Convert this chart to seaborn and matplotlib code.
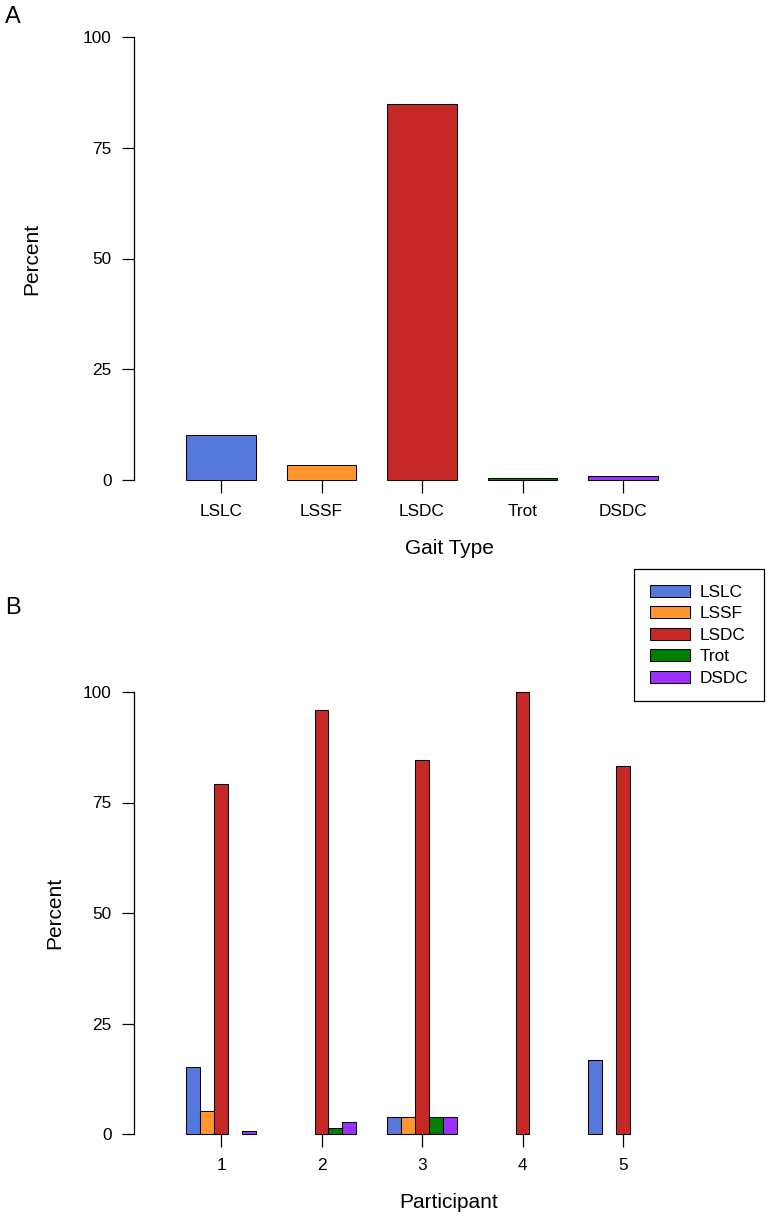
import numpy as np
import pandas as pd
import matplotlib
matplotlib.use("Agg")
import matplotlib.pyplot as plt
import seaborn as sns
from matplotlib.patches import Patch

# Panel A: overall gait type percentages
gaits = ["LSLC", "LSSF", "LSDC", "Trot", "DSDC"]
overall_pct = [10.2, 3.4, 84.9, 0.5, 1.0]

# Panel B: per-participant percentages (nan = not observed)
participants = ["1", "2", "3", "4", "5"]
lslc = [15.1, np.nan, 3.85, np.nan, 16.7]
lssf = [5.2, np.nan, 3.85, np.nan, np.nan]
lsdc = [79.2, 96.0, 84.6, 100.0, 83.3]
trot = [np.nan, 1.4, 3.85, np.nan, np.nan]
dsdc = [0.6, 2.7, 3.85, np.nan, np.nan]

colors = ["#5677DC", "#FF962E", "#C62828", "#008000", "#9B30FF"]
palette = dict(zip(gaits, colors))

sns.set_style("white")
plt.rcParams["font.family"] = ["Liberation Sans", "DejaVu Sans"]
plt.rcParams.update({"text.color": "black", "axes.labelcolor": "black",
                     "xtick.color": "black", "ytick.color": "black"})

df_a = pd.DataFrame({"Gait": gaits, "Percent": overall_pct})
rows = []
for g, vals in zip(gaits, [lslc, lssf, lsdc, trot, dsdc]):
    for p, v in zip(participants, vals):
        rows.append({"Participant": p, "Gait": g, "Percent": v})
df_b = pd.DataFrame(rows)

W, H = 770, 1218
fig = plt.figure(figsize=(W / 100, H / 100), dpi=100)
left_px, right_px = 134, 764
ax_a = fig.add_axes([left_px / W, (H - 480) / H, (right_px - left_px) / W, 443 / H])
ax_b = fig.add_axes([left_px / W, (H - 1134) / H, (right_px - left_px) / W, 442 / H])

lw = 0.75
sns.barplot(data=df_a, x="Gait", y="Percent", hue="Gait", palette=palette,
            order=gaits, hue_order=gaits, width=0.69, dodge=False, saturation=1,
            edgecolor="black", linewidth=lw, legend=False, ax=ax_a)

sns.barplot(data=df_b, x="Participant", y="Percent", hue="Gait", palette=palette,
            order=participants, hue_order=gaits, width=0.69, saturation=1,
            edgecolor="black", linewidth=lw, legend=False, ax=ax_b)

spacing = 100.5
x0 = (left_px - 221) / spacing
x1 = (right_px - 221) / spacing
for ax, xlab, xl_y, yl_x in [(ax_a, "Gait Type", -0.1535, 32),
                              (ax_b, "Participant", -0.156, 55)]:
    ax.set_xlim(x0, x1)
    ax.set_ylim(0, 100)
    ax.set_yticks([0, 25, 50, 75, 100])
    for s in ["top", "right", "bottom"]:
        ax.spines[s].set_visible(False)
    ax.spines["left"].set_color("black")
    ax.spines["left"].set_linewidth(0.9)
    ax.tick_params(axis="both", direction="out", length=9, width=0.9,
                   color="black", labelsize=12.4, pad=7, left=True, bottom=True)
    ax.tick_params(axis="x", pad=8)
    for p in ax.patches:
        p.set_clip_on(False)
    ax.set_xlabel(xlab, fontsize=15)
    ax.set_ylabel("Percent", fontsize=15)
    ax.xaxis.set_label_coords(0.5, xl_y)
    ax.xaxis.label.set_va("center")
    ax.yaxis.set_label_coords((yl_x - left_px) / (right_px - left_px), 0.5)
    ax.yaxis.label.set_va("center")

fig.text(5 / W, 1 - 17 / H, "A", fontsize=17, va="center", ha="left")
fig.text(5 / W, 1 - 608 / H, "B", fontsize=17, va="center", ha="left")

handles = [Patch(facecolor=c, edgecolor="black", linewidth=lw) for c in colors]
leg = fig.legend(handles, gaits, loc="upper right",
                 bbox_to_anchor=(764 / W, 1 - 569 / H), borderaxespad=0,
                 fontsize=12.4, handlelength=2.3, handleheight=0.7,
                 handletextpad=0.6, labelspacing=0.38, borderpad=0.9,
                 fancybox=False, framealpha=1)
leg.get_frame().set_edgecolor("black")
leg.get_frame().set_linewidth(0.9)

fig.savefig("out.png", dpi=100)
